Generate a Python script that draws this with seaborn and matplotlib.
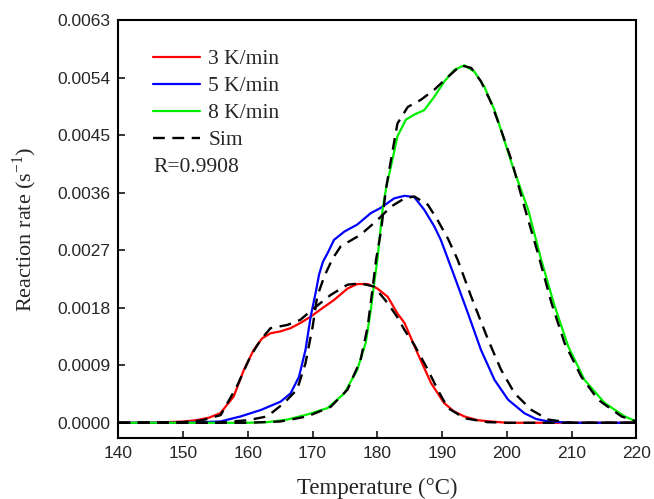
import numpy as np
import pandas as pd
import matplotlib
matplotlib.use("Agg")
import matplotlib.pyplot as plt
import seaborn as sns
from matplotlib.ticker import FormatStrFormatter

# ---- data ----
red_x = [140, 145, 150, 152, 154, 155.75, 157.8, 159.4, 160.9, 162.2, 163.5, 165.05, 166.6, 168.1,
         169.7, 171.2, 173.3, 175.4, 176.9, 178.5, 180.0, 181.6, 183.1, 184.2, 186.2, 188.3, 190.3,
         191.8, 193.4, 195.5, 197.6, 200, 210, 220]
red_y = [0, 0, 0.00002, 0.00004, 0.00008, 0.00015, 0.00041, 0.00083, 0.00114, 0.00132, 0.0014,
         0.00143, 0.00148, 0.00156, 0.00166, 0.00177, 0.00192, 0.0021, 0.00217, 0.00217, 0.0021,
         0.00197, 0.00171, 0.00156, 0.00109, 0.00062, 0.00031, 0.00018, 0.0001, 0.00004, 0.00002,
         0, 0, 0]

blue_x = [140, 150, 155.75, 158.9, 162, 165.05, 166.6, 167.9, 168.9, 169.7, 170.5, 171.0, 171.6,
          172.3, 173.3, 174.9, 176.9, 179.0, 180.5, 182.6, 184.2, 185.7, 187.25, 188.8, 189.8, 191.9,
          194.0, 196.0, 198.1, 200.2, 202.7, 204.5, 206.4, 210, 220]
blue_y = [0, 0, 0.00002, 0.0001, 0.0002, 0.00033, 0.00046, 0.00072, 0.00114, 0.00166, 0.00205,
          0.00232, 0.00252, 0.00265, 0.00286, 0.00299, 0.0031, 0.00328, 0.00336, 0.00351, 0.00355,
          0.00353, 0.00333, 0.00307, 0.00286, 0.00229, 0.00171, 0.00114, 0.00067, 0.00036, 0.00015,
          0.00006, 0.00002, 0, 0]

green_x = [140, 160, 163, 166.1, 169.2, 172.3, 174.9, 176.9, 178.2, 179.0, 179.5, 180.0, 180.8, 181.4,
           182.1, 183.1, 184.4, 185.7, 187.25, 188.8, 190.35, 191.9, 193.45, 195.0, 196.5, 198.1,
           199.6, 200.9, 203.3, 205.3, 207.4, 209.5, 212.0, 215.1, 218.2, 220]
green_y = [0, 0, 0.00001, 0.00005, 0.00013, 0.00023, 0.00046, 0.00083, 0.00125, 0.00177, 0.00218,
           0.00255, 0.00333, 0.0037, 0.00401, 0.00448, 0.00474, 0.00482, 0.00489, 0.0051, 0.00534,
           0.00552, 0.00559, 0.00549, 0.00526, 0.00489, 0.00442, 0.00401, 0.00333, 0.00255, 0.00182,
           0.00119, 0.00067, 0.00031, 0.0001, 0.00002]

sim3_x = [140, 150, 153, 155.8, 158.3, 160.4, 162.0, 163.5, 166.1, 168.1, 170.2, 172.8, 175.4, 177.4,
          179.5, 181.6, 183.1, 184.2, 185.7, 187.8, 189.4, 190.9, 193.5, 197, 200, 220]
sim3_y = [0, 0.00001, 0.00004, 0.00012, 0.00057, 0.00104, 0.0013, 0.00148, 0.00153, 0.00161, 0.00179,
          0.002, 0.00216, 0.00218, 0.00213, 0.00187, 0.00165, 0.00145, 0.00122, 0.00083, 0.0005,
          0.00023, 0.00007, 0.00001, 0, 0]

sim5_x = [140, 155, 160, 163, 165.6, 167.6, 168.9, 170.0, 170.7, 171.8, 173.1, 174.35, 177.4, 180.0,
          182.1, 184.2, 185.7, 187.8, 189.3, 190.9, 192.4, 194.5, 197.1, 199.1, 201.2, 203.8, 206.4,
          210, 220]
sim5_y = [0, 0, 0.00004, 0.0001, 0.00031, 0.00052, 0.00093, 0.0015, 0.00197, 0.00229, 0.00257, 0.00276,
          0.00294, 0.00317, 0.00338, 0.00351, 0.00354, 0.00341, 0.00317, 0.00288, 0.00255, 0.00197,
          0.0013, 0.00083, 0.00046, 0.0002, 0.00005, 0, 0]

sim8_x = [140, 160, 165, 169.2, 172.8, 175.4, 177.4, 178.5, 179.3, 179.8, 180.6, 181.3, 182.1, 183.1,
          184.7, 186.7, 188.8, 190.9, 192.9, 194.5, 196.0, 197.6, 199.1, 200.7, 202.7, 204.8, 206.9,
          208.9, 211.5, 214.1, 217.7, 220]
sim8_y = [0, 0, 0.00002, 0.0001, 0.00025, 0.00052, 0.00098, 0.0015, 0.00213, 0.00255, 0.00302, 0.00364,
          0.00411, 0.00468, 0.00494, 0.00505, 0.00521, 0.00541, 0.00559, 0.00555, 0.00534, 0.005,
          0.00458, 0.00411, 0.00338, 0.00265, 0.00187, 0.00125, 0.00072, 0.00036, 0.0001, 0.00002]

labels = ["3 K/min", "5 K/min", "8 K/min"]
colors = ["#FF0000", "#0000FF", "#00EE00"]
y_ticks = [0.0, 0.0009, 0.0018, 0.0027, 0.0036, 0.0045, 0.0054, 0.0063]
x_ticks = [140, 150, 160, 170, 180, 190, 200, 210, 220]

exp = pd.concat([
    pd.DataFrame({"T": red_x, "r": red_y, "rate": labels[0]}),
    pd.DataFrame({"T": blue_x, "r": blue_y, "rate": labels[1]}),
    pd.DataFrame({"T": green_x, "r": green_y, "rate": labels[2]}),
])
sims = [(sim3_x, sim3_y), (sim5_x, sim5_y), (sim8_x, sim8_y)]

sns.set_style("ticks")
plt.rcParams["font.family"] = ["Liberation Sans", "DejaVu Sans"]
plt.rcParams["mathtext.fontset"] = "custom"
plt.rcParams["mathtext.rm"] = "Liberation Serif"
plt.rcParams["lines.solid_joinstyle"] = "round"
plt.rcParams["lines.dash_joinstyle"] = "round"

fig = plt.figure(figsize=(6.54, 4.99), dpi=100)
ax = fig.add_axes([0.181, 0.122, 0.792, 0.838])

sns.lineplot(data=exp, x="T", y="r", hue="rate", palette=dict(zip(labels, colors)),
             sort=False, estimator=None, linewidth=1.6, ax=ax)
for i, (sx, sy) in enumerate(sims):
    ax.plot(sx, sy, color="black", linestyle=(0, (5, 3.2)), linewidth=1.7,
            label="Sim" if i == 0 else None)

ax.set_xlim(140, 220)
ax.set_ylim(-0.00024, 0.0063)
ax.set_xticks(x_ticks)
ax.set_yticks(y_ticks)
ax.yaxis.set_major_formatter(FormatStrFormatter("%.4f"))
ax.tick_params(axis="both", direction="in", length=5, width=1.3, labelsize=12.5,
               top=False, right=False, pad=6)
for s in ax.spines.values():
    s.set_linewidth(1.5)
    s.set_color("black")

serif = ["Liberation Serif", "DejaVu Serif"]
ax.set_xlabel("Temperature (°C)", fontsize=16.5, family=serif, labelpad=12)
ax.set_ylabel("Reaction rate (s$^{\\mathregular{-1}}$)", fontsize=16, family=serif, labelpad=13)

handles, labs = ax.get_legend_handles_labels()
leg = ax.legend(handles, labs, loc="upper left", bbox_to_anchor=(0.067, 0.93), frameon=False,
                prop={"family": serif, "size": 15.5}, handlelength=2.2, handletextpad=0.37,
                labelspacing=0.32, borderaxespad=0.0, borderpad=0.0)
ax.text(0.067, 0.648, "R=0.9908", transform=ax.transAxes, fontsize=15.5, family=serif,
        va="center", ha="left")

fig.savefig("out.png", dpi=100)
